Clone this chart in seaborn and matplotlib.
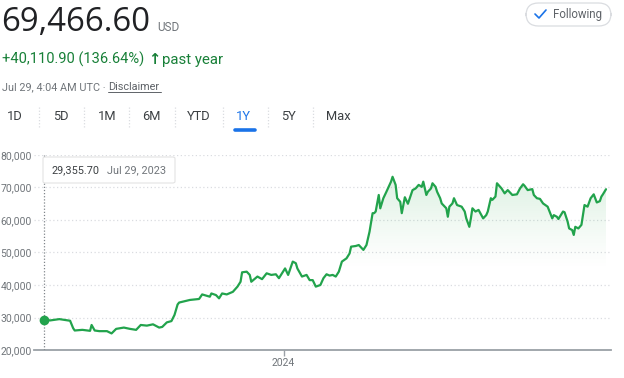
import numpy as np
import pandas as pd
import matplotlib
matplotlib.use("Agg")
import matplotlib.pyplot as plt
import seaborn as sns
from matplotlib.patches import FancyBboxPatch
from matplotlib.lines import Line2D

# ---------------- data ----------------
dates = [
    "2023-07-29", "2023-08-02", "2023-08-08", "2023-08-15", "2023-08-17", "2023-08-18",
    "2023-08-23", "2023-08-28", "2023-08-29", "2023-08-31", "2023-09-03", "2023-09-08",
    "2023-09-11", "2023-09-14", "2023-09-19", "2023-09-23", "2023-09-27", "2023-09-30",
    "2023-10-04", "2023-10-08", "2023-10-12", "2023-10-14", "2023-10-17", "2023-10-20",
    "2023-10-22", "2023-10-24", "2023-10-25", "2023-11-01", "2023-11-07", "2023-11-09",
    "2023-11-14", "2023-11-15", "2023-11-18", "2023-11-20", "2023-11-22", "2023-11-25",
    "2023-11-29", "2023-12-02", "2023-12-04", "2023-12-05", "2023-12-08", "2023-12-10",
    "2023-12-11", "2023-12-15", "2023-12-18", "2023-12-21", "2023-12-24", "2023-12-27",
    "2023-12-29", "2024-01-02", "2024-01-04", "2024-01-07", "2024-01-09", "2024-01-10",
    "2024-01-13", "2024-01-16", "2024-01-18", "2024-01-20", "2024-01-22", "2024-01-25",
    "2024-01-27", "2024-01-29", "2024-01-31", "2024-02-02", "2024-02-04", "2024-02-06",
    "2024-02-08", "2024-02-11", "2024-02-13", "2024-02-14", "2024-02-17", "2024-02-19",
    "2024-02-21", "2024-02-22", "2024-02-24", "2024-02-26", "2024-02-28", "2024-02-29",
    "2024-03-01", "2024-03-03", "2024-03-04", "2024-03-06", "2024-03-08", "2024-03-11",
    "2024-03-12", "2024-03-14", "2024-03-15", "2024-03-17", "2024-03-18", "2024-03-20",
    "2024-03-22", "2024-03-25", "2024-03-27", "2024-03-29", "2024-03-31", "2024-04-01",
    "2024-04-03", "2024-04-04", "2024-04-06", "2024-04-07", "2024-04-09", "2024-04-10",
    "2024-04-12", "2024-04-13", "2024-04-16", "2024-04-17", "2024-04-18", "2024-04-20",
    "2024-04-21", "2024-04-23", "2024-04-26", "2024-04-28", "2024-04-29", "2024-05-01",
    "2024-05-02", "2024-05-03", "2024-05-05", "2024-05-07", "2024-05-10", "2024-05-12",
    "2024-05-13", "2024-05-15", "2024-05-16", "2024-05-18", "2024-05-19", "2024-05-22",
    "2024-05-24", "2024-05-26", "2024-05-27", "2024-05-29", "2024-06-01", "2024-06-03",
    "2024-06-05", "2024-06-06", "2024-06-08", "2024-06-11", "2024-06-12", "2024-06-14",
    "2024-06-16", "2024-06-18", "2024-06-21", "2024-06-24", "2024-06-25", "2024-06-27",
    "2024-06-28", "2024-07-01", "2024-07-02", "2024-07-04", "2024-07-05", "2024-07-07",
    "2024-07-08", "2024-07-09", "2024-07-11", "2024-07-13", "2024-07-14", "2024-07-15",
    "2024-07-17", "2024-07-19", "2024-07-21", "2024-07-23", "2024-07-25", "2024-07-26",
    "2024-07-27", "2024-07-29",
]
prices = [
    29356, 29100, 29500, 29000, 26700, 26000,
    26200, 25900, 27700, 26000, 25800, 25800,
    25100, 26500, 26900, 26500, 26200, 27700,
    27500, 27900, 26900, 27100, 28500, 28900,
    30800, 34000, 34600, 35400, 35700, 37100,
    36400, 37400, 36900, 35900, 37400, 37100,
    37900, 39500, 41000, 43900, 44100, 43100,
    41000, 42600, 41800, 43600, 43100, 43300,
    42100, 45100, 43100, 47200, 46700, 45100,
    42600, 43100, 41500, 41500, 39500, 40000,
    42100, 43300, 42900, 43100, 42600, 44100,
    47200, 48200, 49700, 51800, 52000, 52300,
    51300, 50800, 52300, 56400, 62100, 62100,
    62600, 67700, 63600, 66700, 68700, 71800,
    73300, 70800, 66700, 65600, 62100, 67000,
    65000, 69200, 69700, 70800, 70200, 71800,
    67700, 68700, 69700, 71300, 70200, 68700,
    66700, 65100, 63600, 61000, 64100, 65100,
    66700, 64600, 64100, 62600, 60500, 57900,
    60500, 63600, 62600, 63100, 60500, 61500,
    62600, 66700, 66200, 67200, 71300, 69700,
    68200, 69200, 68700, 67700, 67900, 69700,
    71000, 70500, 69200, 69500, 67700, 66700,
    66500, 65100, 64100, 60500, 61500, 61000,
    60300, 62600, 62400, 59500, 57400, 56900,
    55400, 57900, 57400, 58500, 61500, 64600,
    64100, 66700, 67900, 65400, 65800, 67200,
    67900, 69466.60,
]
y_ticks = [20000, 30000, 40000, 50000, 60000, 70000, 80000]
x_tick_dates = ["2024-01-01"]
x_tick_labels = ["2024"]
tabs = ["1D", "5D", "1M", "6M", "YTD", "1Y", "5Y", "Max"]
price_text = "69,466.60"
change_text = "+40,110.90 (136.64%)"
tooltip_value = "29,355.70"
tooltip_date = "Jul 29, 2023"

df = pd.DataFrame({"date": pd.to_datetime(dates), "price": prices})

# ---------------- style ----------------
sns.set_theme(style="white")
plt.rcParams["font.family"] = ["Roboto", "DejaVu Sans"]

W, H = 624, 378
fig = plt.figure(figsize=(W / 100, H / 100), dpi=100)
fig.patch.set_facecolor("white")

def fx(px):
    return px / W

def fy(py):
    return 1 - py / H

GREEN = "#22a34c"
GRAY = "#70757a"

# axes: x from px 34 to 611, y from 155 (80k) to 350 (20k)
ax = fig.add_axes([fx(34), fy(350), fx(611) - fx(34), fy(155) - fy(350)])
ax.set_facecolor("none")

sns.lineplot(data=df, x="date", y="price", ax=ax, color=GREEN, lw=1.6, zorder=4)

start = df["date"].iloc[0]
end = df["date"].iloc[-1]
span = (end - start).days
px_per_day = (606 - 44) / span
ax.set_xlim(start - pd.Timedelta(days=10 / px_per_day), end + pd.Timedelta(days=5 / px_per_day))
ax.set_ylim(y_ticks[0], y_ticks[-1])

# gradient fill under the line
poly = ax.fill_between(df["date"], df["price"], y_ticks[0], color="none", lw=0)
grad = np.linspace(0, 1, 256).reshape(-1, 1)
alpha = np.clip((grad - 0.40) / 0.55, 0, 1) ** 1.3 * 0.2
rgba = np.zeros((256, 1, 4))
rgba[..., 0] = 0x34 / 255
rgba[..., 1] = 0xa8 / 255
rgba[..., 2] = 0x53 / 255
rgba[..., 3] = alpha
x0, x1 = ax.get_xlim()
im = ax.imshow(rgba, extent=[x0, x1, y_ticks[0], y_ticks[-1]], origin="lower",
               aspect="auto", zorder=2)
im.set_clip_path(poly.get_paths()[0], transform=ax.transData)
ax.set_xlim(x0, x1)
ax.set_ylim(y_ticks[0], y_ticks[-1])

# grid
for yt in y_ticks[1:]:
    ax.axhline(yt, color="#dadce0", lw=0.9, ls=(0, (1, 2)), zorder=1)

ax.set_yticks(y_ticks)
ax.set_yticklabels([f"{v:,}" for v in y_ticks])
ax.set_xticks(pd.to_datetime(x_tick_dates))
ax.set_xticklabels(x_tick_labels)
ax.tick_params(axis="y", length=0, pad=1.5, labelsize=7.5, labelcolor=GRAY)
ax.tick_params(axis="x", length=4, width=1, color="#9aa0a6", pad=2, labelsize=7.5,
               labelcolor=GRAY, direction="out", bottom=True)
for s in ["top", "right", "left"]:
    ax.spines[s].set_visible(False)
ax.spines["bottom"].set_color("#9aa0a6")
ax.spines["bottom"].set_linewidth(1.3)
ax.set_xlabel("")
ax.set_ylabel("")

# start marker and vertical dotted line
ax.axvline(start, color="#80868b", lw=0.9, ls=(0, (1, 1.5)), zorder=3)
ax.scatter([start], [prices[0]], s=36, color=GREEN, zorder=6, clip_on=False)

# tooltip box
tip = FancyBboxPatch((fx(43), fy(183)), fx(175) - fx(43), fy(157) - fy(183),
                     boxstyle="round,pad=0,rounding_size=0.004",
                     transform=fig.transFigure, facecolor="white",
                     edgecolor="#e3e3e3", lw=0.8, zorder=10)
fig.patches.append(tip)
fig.text(fx(51), fy(170), tooltip_value, fontsize=7.8, color="#3c4043",
         va="center", ha="left", zorder=11)
fig.text(fx(107), fy(170), tooltip_date, fontsize=7.8, color=GRAY,
         va="center", ha="left", zorder=11)

# ---------------- header ----------------
fig.text(fx(1), fy(31), price_text, fontsize=23.8, color="#202124",
         family=["Open Sans", "DejaVu Sans"], va="baseline", ha="left")
fig.text(fx(157), fy(31), "USD", fontsize=8.5, color=GRAY, va="baseline", ha="left")
fig.text(fx(2), fy(64), change_text, fontsize=10.5, color="#188038",
         va="baseline", ha="left")
fig.text(fx(148), fy(64), "\u2191", fontsize=10.5, color="#188038", fontweight="bold",
         va="baseline", ha="left", family=["DejaVu Sans"])
fig.text(fx(162), fy(64), "past year", fontsize=10.8, color="#188038",
         va="baseline", ha="left")
fig.text(fx(2), fy(90), "Jul 29, 4:04 AM UTC \u00b7 ", fontsize=7.8, color=GRAY,
         va="baseline", ha="left")
fig.text(fx(108), fy(90), "Disclaimer", fontsize=7.8, color="#5f6368",
         va="baseline", ha="left")
fig.add_artist(Line2D([fx(108), fx(161)], [fy(92), fy(92)], color="#5f6368", lw=0.7))

# following button
btn = FancyBboxPatch((fx(526), fy(26)), fx(611) - fx(526), fy(3) - fy(26),
                     boxstyle="round,pad=0,rounding_size=0.02",
                     transform=fig.transFigure, facecolor="white",
                     edgecolor="#dadce0", lw=0.9, zorder=5,
                     mutation_aspect=W / H)
fig.patches.append(btn)
fig.add_artist(Line2D([fx(535), fx(539), fx(546)], [fy(14), fy(18), fy(10)],
                      color="#1a73e8", lw=1.2, zorder=6))
fig.text(fx(553), fy(14.5), "Following", fontsize=8.3, color="#5f6368",
         va="center", ha="left", zorder=6)

# tabs
tab_centers = [15, 61, 107, 151, 199, 243, 288, 338]
sep_x = [39, 84, 129, 175, 223, 268, 313]
for t, cx in zip(tabs, tab_centers):
    col = "#1a73e8" if t == "1Y" else "#3c4043"
    fig.text(fx(cx), fy(117), t, fontsize=9.3, color=col, ha="center", va="center")
for sx in sep_x:
    fig.add_artist(Line2D([fx(sx), fx(sx)], [fy(107), fy(127)], color="#dadce0",
                          lw=0.9, ls=(0, (1, 1.5))))
fig.add_artist(Line2D([fx(235), fx(255)], [fy(129.5), fy(129.5)], color="#1a73e8",
                      lw=2.6, solid_capstyle="round"))

fig.savefig("out.png", dpi=100, facecolor="white")
